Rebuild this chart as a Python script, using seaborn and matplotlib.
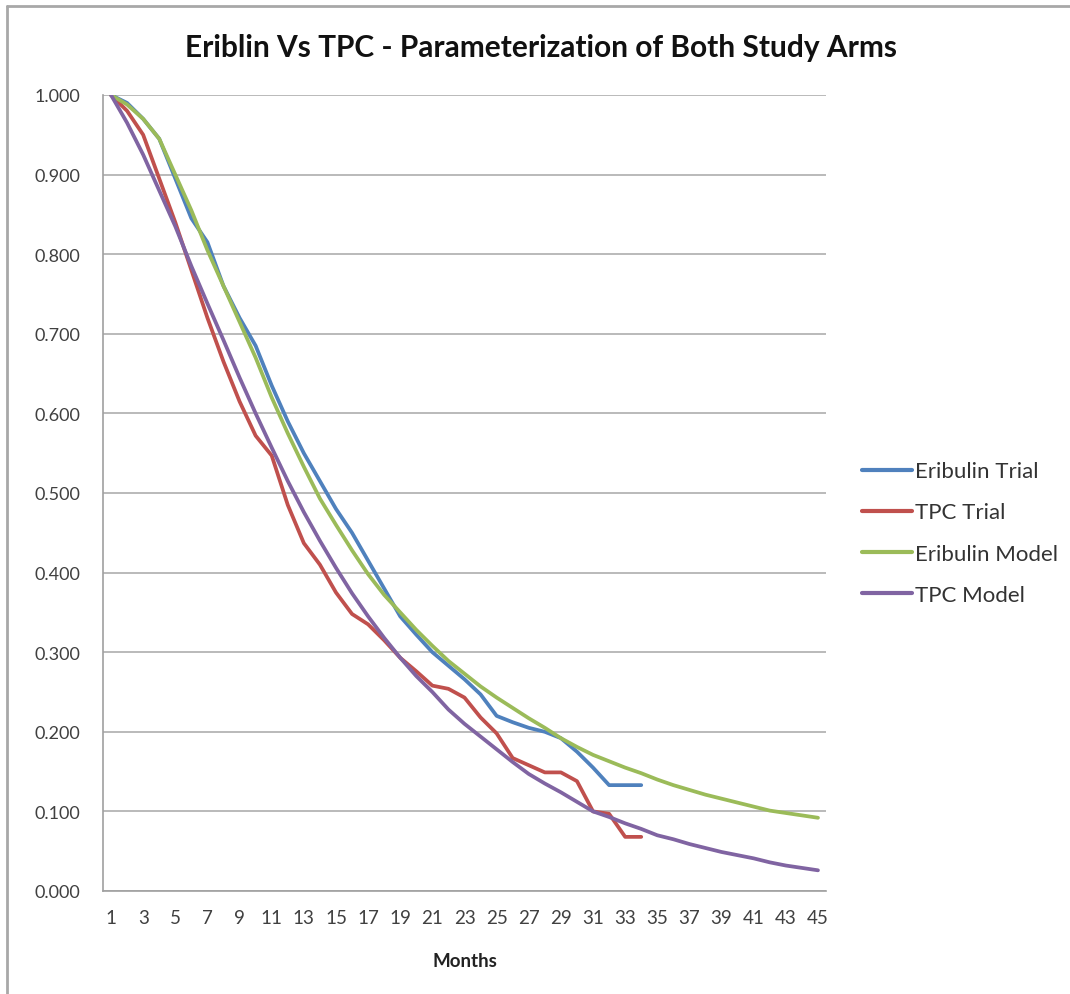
import numpy as np
import pandas as pd
import matplotlib
matplotlib.use("Agg")
import matplotlib.pyplot as plt
from matplotlib.lines import Line2D
import seaborn as sns

months = list(range(1, 46))

eribulin_trial = [1.000, 0.990, 0.970, 0.945, 0.895, 0.845, 0.815, 0.760, 0.720, 0.685,
                  0.635, 0.590, 0.550, 0.515, 0.480, 0.450, 0.415, 0.380, 0.345, 0.322,
                  0.300, 0.283, 0.266, 0.247, 0.220, 0.212, 0.205, 0.200, 0.192, 0.175,
                  0.155, 0.133, 0.133, 0.133]

tpc_trial = [1.000, 0.980, 0.950, 0.895, 0.840, 0.780, 0.720, 0.665, 0.615, 0.572,
             0.547, 0.485, 0.437, 0.410, 0.375, 0.348, 0.335, 0.315, 0.293, 0.276,
             0.258, 0.254, 0.243, 0.218, 0.198, 0.167, 0.158, 0.149, 0.149, 0.138,
             0.100, 0.097, 0.068, 0.068]

eribulin_model = [1.000, 0.988, 0.970, 0.945, 0.900, 0.855, 0.805, 0.760, 0.715, 0.670,
                  0.620, 0.575, 0.533, 0.493, 0.460, 0.428, 0.398, 0.372, 0.350, 0.328,
                  0.308, 0.289, 0.273, 0.257, 0.243, 0.230, 0.217, 0.205, 0.192, 0.181,
                  0.171, 0.163, 0.155, 0.148, 0.140, 0.133, 0.127, 0.121, 0.116, 0.111,
                  0.106, 0.101, 0.098, 0.095, 0.092]

tpc_model = [1.000, 0.965, 0.925, 0.880, 0.835, 0.785, 0.738, 0.692, 0.645, 0.600,
             0.557, 0.515, 0.476, 0.440, 0.406, 0.374, 0.345, 0.318, 0.293, 0.270,
             0.250, 0.228, 0.210, 0.194, 0.178, 0.162, 0.147, 0.135, 0.124, 0.112,
             0.100, 0.093, 0.085, 0.078, 0.070, 0.065, 0.059, 0.054, 0.049, 0.045,
             0.041, 0.036, 0.032, 0.029, 0.026]

series_names = ["Eribulin Trial", "TPC Trial", "Eribulin Model", "TPC Model"]
series_vals = [eribulin_trial, tpc_trial, eribulin_model, tpc_model]
colors = ["#4F81BD", "#C0504D", "#9BBB59", "#8064A2"]

rows = []
for name, vals in zip(series_names, series_vals):
    for m, v in zip(months, vals):
        rows.append({"Month": m, "Survival": v, "Series": name})
df = pd.DataFrame(rows)

sns.set_style("white")
plt.rcParams["font.family"] = ["Lato", "DejaVu Sans"]

fig = plt.figure(figsize=(10.7, 9.95), dpi=100)
ax = fig.add_axes([103/1070, 1 - 892/995, (826-103)/1070, (892-96)/995])

sns.lineplot(data=df, x="Month", y="Survival", hue="Series", hue_order=series_names,
             palette=dict(zip(series_names, colors)), linewidth=2.7, ax=ax,
             legend=False, estimator=None, sort=True)

ax.set_xlim(0.5, 45.5)
ax.set_ylim(0, 1.0)
ax.set_yticks(np.arange(0, 1.01, 0.1))
ax.set_yticklabels([f"{v:.3f}" for v in np.arange(0, 1.01, 0.1)], fontsize=13, color="#404040")
ax.yaxis.grid(True, color="#B4B4B4", linewidth=1.3)
ax.xaxis.grid(False)
ax.set_axisbelow(True)

odd = [m for m in months if m % 2 == 1]
ax.set_xticks(odd)
ax.set_xticklabels([str(m) for m in odd], fontsize=13.5, color="#404040")
ax.set_xticks(np.arange(0.5, 46, 1.0), minor=True)
ax.tick_params(axis="x", which="major", length=0, pad=13)
ax.tick_params(axis="x", which="minor", length=5, color="#A0A0A0", direction="out")
ax.tick_params(axis="y", which="major", length=5, color="#A0A0A0", direction="out", pad=11.5)

for s in ["top", "right"]:
    ax.spines[s].set_visible(False)
for s in ["left", "bottom"]:
    ax.spines[s].set_color("#A0A0A0")
    ax.spines[s].set_linewidth(1.2)

ax.set_xlabel("Months", fontsize=13.5, fontweight="bold", color="#222222", labelpad=19)
ax.set_ylabel("")

fig.text(541/1070, 1 - 48/995, "Eriblin Vs TPC - Parameterization of Both Study Arms",
         ha="center", va="center", fontsize=21.5, fontweight="bold", color="#111111")

handles = [Line2D([0], [0], color=c, linewidth=3) for c in colors]
fig.legend(handles, series_names, loc="center left",
           bbox_to_anchor=(855/1070, 1 - 534/995), frameon=False, fontsize=16,
           handlelength=2.25, handletextpad=0.15, labelspacing=0.95, labelcolor="#333333",
           borderaxespad=0, borderpad=0.3)

# outer chart border (left and top visible)
fig.add_artist(Line2D([7/1070, 7/1070], [0, 1 - 7/995], transform=fig.transFigure,
                      color="#A8A8A8", linewidth=2))
fig.add_artist(Line2D([7/1070, 1], [1 - 7/995, 1 - 7/995], transform=fig.transFigure,
                      color="#A8A8A8", linewidth=2))

fig.savefig("out.png", dpi=100, facecolor="white")
